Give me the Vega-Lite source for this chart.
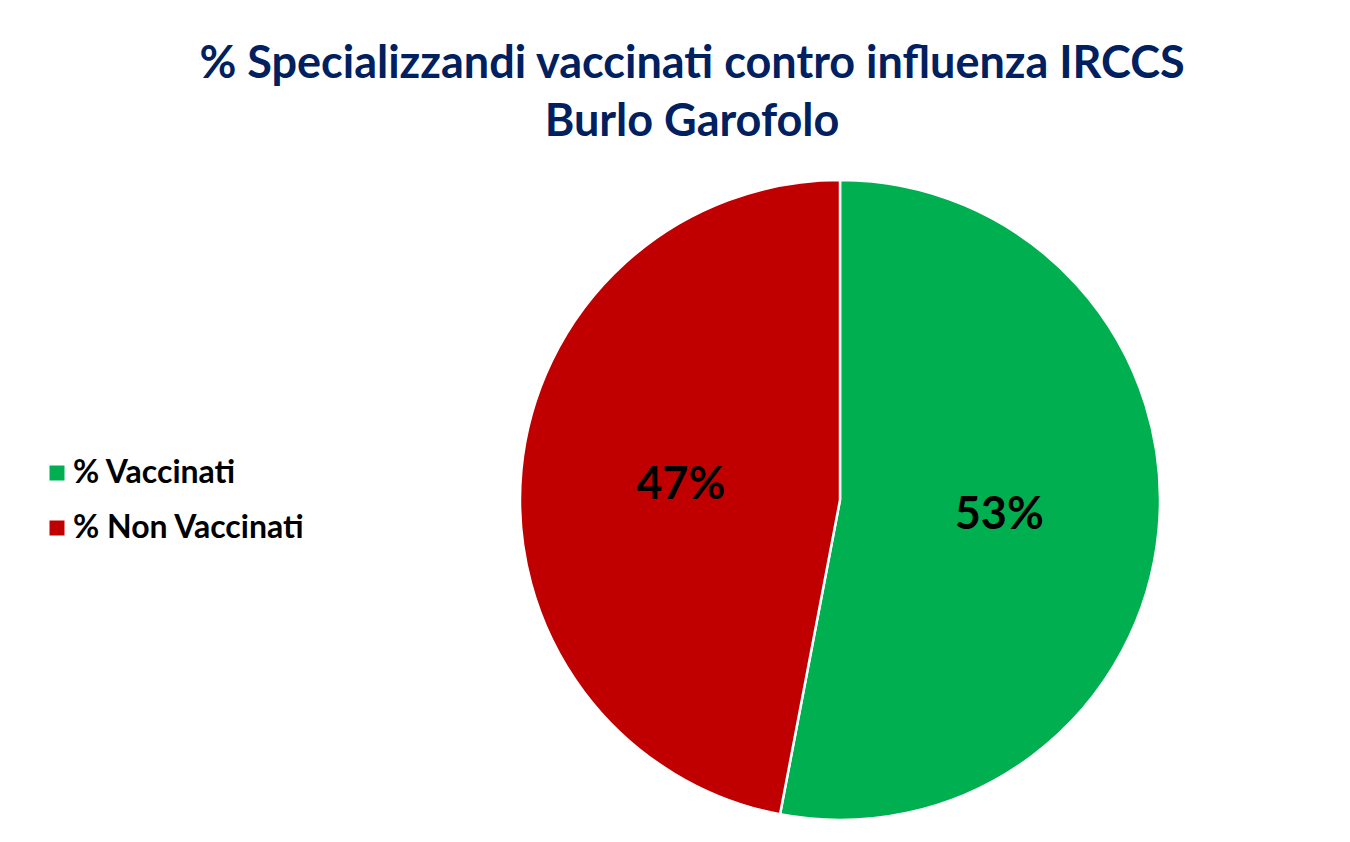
{
  "$schema": "https://vega.github.io/schema/vega-lite/v6.json",
  "autosize": {"type": "none"},
  "width": 640,
  "height": 640,
  "padding": {"left": 520, "top": 180, "right": 190, "bottom": 22},
  "background": "white",
  "config": {"view": {"stroke": null}, "font": "Lato"},
  "title": {
    "text": ["% Specializzandi vaccinati contro influenza IRCCS", "Burlo Garofolo"],
    "font": "Lato",
    "fontSize": 45,
    "fontWeight": "bold",
    "color": "#002060",
    "anchor": "middle",
    "dx": -148,
    "offset": 30,
    "lineHeight": 58
  },
  "data": {
    "values": [
      {"categoria": "% Vaccinati", "valore": 53, "ordine": 1, "etichetta": "53%"},
      {"categoria": "% Non Vaccinati", "valore": 47, "ordine": 2, "etichetta": "47%"}
    ]
  },
  "encoding": {
    "theta": {"field": "valore", "type": "quantitative", "stack": true},
    "order": {"field": "ordine", "type": "quantitative"}
  },
  "layer": [
    {
      "mark": {"type": "arc", "outerRadius": 320, "stroke": "white", "strokeWidth": 2.5},
      "encoding": {
        "color": {
          "field": "categoria",
          "type": "nominal",
          "scale": {"domain": ["% Vaccinati", "% Non Vaccinati"], "range": ["#00B050", "#C00000"]},
          "legend": {
            "title": null,
            "orient": "none",
            "legendX": -479,
            "legendY": 277,
            "symbolType": "square",
            "symbolSize": 225,
            "symbolStrokeWidth": 0,
            "labelFont": "Lato",
            "labelFontSize": 32,
            "labelFontWeight": "bold",
            "labelColor": "#000000",
            "labelOffset": 0,
            "labelLimit": 0,
            "rowPadding": 23
          }
        }
      }
    },
    {
      "mark": {"type": "text", "radius": 160, "font": "Lato", "fontSize": 45, "fontWeight": "bold", "color": "#000000", "baseline": "middle", "align": "center"},
      "encoding": {
        "text": {"field": "etichetta", "type": "nominal"}
      }
    }
  ]
}
